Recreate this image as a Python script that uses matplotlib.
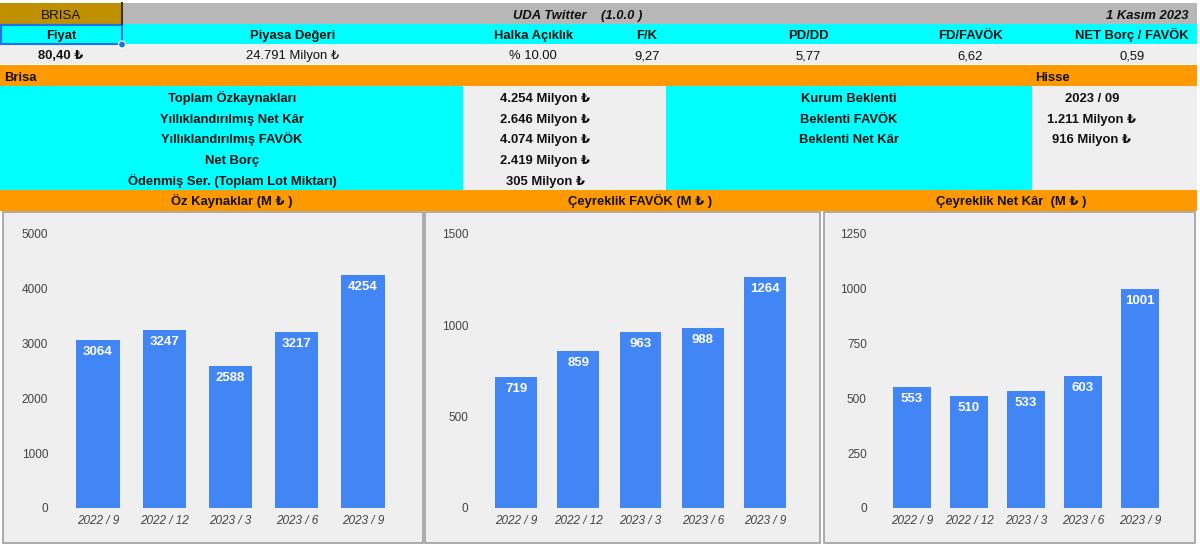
import matplotlib.pyplot as plt
from matplotlib.patches import Rectangle, Circle

plt.rcParams['font.family'] = ['Liberation Sans', 'DejaVu Sans']

# header data
ticker = 'BRISA'
title = 'UDA Twitter    (1.0.0 )'
date_txt = '1 Kasım 2023'
head_labels = ['Fiyat', 'Piyasa Değeri', 'Halka Açıklık', 'F/K', 'PD/DD', 'FD/FAVÖK', 'NET Borç / FAVÖK']
head_values = ['80,40 ₺', '24.791 Milyon ₺', '% 10.00', '9,27', '5,77', '6,62', '0,59']
head_x = [61, 293, 533, 647, 808, 970, 1132]

left_labels = ['Toplam Özkaynakları', 'Yıllıklandırılmış Net Kâr', 'Yıllıklandırılmış FAVÖK',
               'Net Borç', 'Ödenmiş Ser. (Toplam Lot Miktarı)']
left_values = ['4.254 Milyon ₺', '2.646 Milyon ₺', '4.074 Milyon ₺', '2.419 Milyon ₺', '305 Milyon ₺']
right_labels = ['Kurum Beklenti', 'Beklenti FAVÖK', 'Beklenti Net Kâr']
right_values = ['2023 / 09', '1.211 Milyon ₺', '916 Milyon ₺']

# chart data
quarters = ['2022 / 9', '2022 / 12', '2023 / 3', '2023 / 6', '2023 / 9']
oz_kaynak = [3064, 3247, 2588, 3217, 4254]
favok = [719, 859, 963, 988, 1264]
net_kar = [553, 510, 533, 603, 1001]
chart_titles = ['Öz Kaynaklar (M ₺ )', 'Çeyreklik FAVÖK (M ₺ )', 'Çeyreklik Net Kâr  (M ₺ )']

W, H = 1200, 547
ORANGE = '#ff9900'
CYAN = '#00ffff'
LGRAY = '#efefef'
GOLD = '#bf9000'
HGRAY = '#b7b7b7'
BLUE = '#4285f4'
TXT = '#111111'
FS = 9.4

fig = plt.figure(figsize=(W / 100, H / 100), dpi=100)
bg = fig.add_axes([0, 0, 1, 1])
bg.set_xlim(0, W)
bg.set_ylim(H, 0)
bg.axis('off')


def box(x0, y0, x1, y1, color, ec='none', lw=0):
    bg.add_patch(Rectangle((x0, y0), x1 - x0, y1 - y0, facecolor=color, edgecolor=ec, linewidth=lw))


def txt(x, y, s, ha='center', **kw):
    # y is the visual middle of the capitals
    kw.setdefault('fontsize', FS)
    kw.setdefault('color', TXT)
    bg.text(x, y + 4.6, s, ha=ha, va='baseline', **kw)


# row 1
box(0, 3, 122, 24, GOLD)
box(122, 3, 1197, 24, HGRAY)
bg.plot([122, 122], [3, 24], color='#333333', lw=1.5)
txt(61, 14, ticker, fontsize=9.6)
txt(578, 14.5, title, fontweight='bold', fontstyle='italic')
txt(1188, 14.5, date_txt, ha='right', fontweight='bold', fontstyle='italic')

# row 2 / 3
box(0, 24, 1197, 44, CYAN)
box(0, 44, 1197, 64, LGRAY)
for x, lab, val in zip(head_x, head_labels, head_values):
    txt(x, 34.5, lab, fontweight='bold')
    txt(x, 54.5, val, fontweight='bold' if lab == 'Fiyat' else 'normal')
box(1, 25, 122, 44, 'none', ec='#1a73e8', lw=1.5)
bg.add_patch(Circle((122, 44.5), 3.5, facecolor='#1a73e8', edgecolor='white', lw=0.8))

# section
box(0, 65, 1197, 86, ORANGE)
txt(4, 76, 'Brisa', ha='left', fontweight='bold')
txt(1052, 76, 'Hisse', fontweight='bold')
box(0, 86, 463, 190, CYAN)
box(463, 86, 666, 190, LGRAY)
box(666, 86, 1032, 190, CYAN)
box(1032, 86, 1197, 190, LGRAY)
row_y = [97, 118, 138.5, 159, 180]
for y, lab, val in zip(row_y, left_labels, left_values):
    txt(232, y, lab, fontweight='bold')
    txt(545, y, val, fontweight='bold')
for y, lab, val in zip(row_y, right_labels, right_values):
    txt(849, y, lab, fontweight='bold')
    txt(1092, y, val, fontweight='bold')

# chart title row
box(0, 190, 1197, 211, ORANGE)
for x, t in zip([232, 640, 1011], chart_titles):
    txt(x, 200.5, t, fontweight='bold')

# chart panels
panels = [(3, 423), (425, 820), (824, 1195)]
for x0, x1 in panels:
    box(x0, 212, x1, 543, LGRAY, ec='#9e9e9e', lw=1.2)

charts = [
    (oz_kaynak, 5000, 1000, 98, 363, 0.65),
    (favok, 1500, 500, 516, 765, 0.67),
    (net_kar, 1250, 250, 912, 1140, 0.65),
]
y0_px, ytop_px = 508, 234
for vals, ymax, step, c0, c4, bw in charts:
    sp = (c4 - c0) / 4
    left = c0 - sp / 2
    ax = fig.add_axes([left / W, (H - y0_px) / H, (sp * 5) / W, (y0_px - ytop_px) / H])
    ax.patch.set_alpha(0)
    xs = range(len(quarters))
    bars = ax.bar(xs, vals, width=bw, color=BLUE)
    for b, v in zip(bars, vals):
        ax.text(b.get_x() + b.get_width() / 2, v - ymax * 0.022, str(v), ha='center', va='top',
                color='white', fontweight='bold', fontsize=9.5)
    ax.set_xlim(-0.5, 4.5)
    ax.set_ylim(0, ymax)
    ax.set_yticks(range(0, ymax + 1, step))
    ax.set_xticks(list(xs))
    ax.set_xticklabels(quarters, fontstyle='italic')
    ax.tick_params(length=0, labelsize=8.5, labelcolor='#444444')
    ax.tick_params(axis='y', pad=12)
    ax.tick_params(axis='x', pad=5)
    for s in ax.spines.values():
        s.set_visible(False)

fig.savefig('out.png', dpi=100)
